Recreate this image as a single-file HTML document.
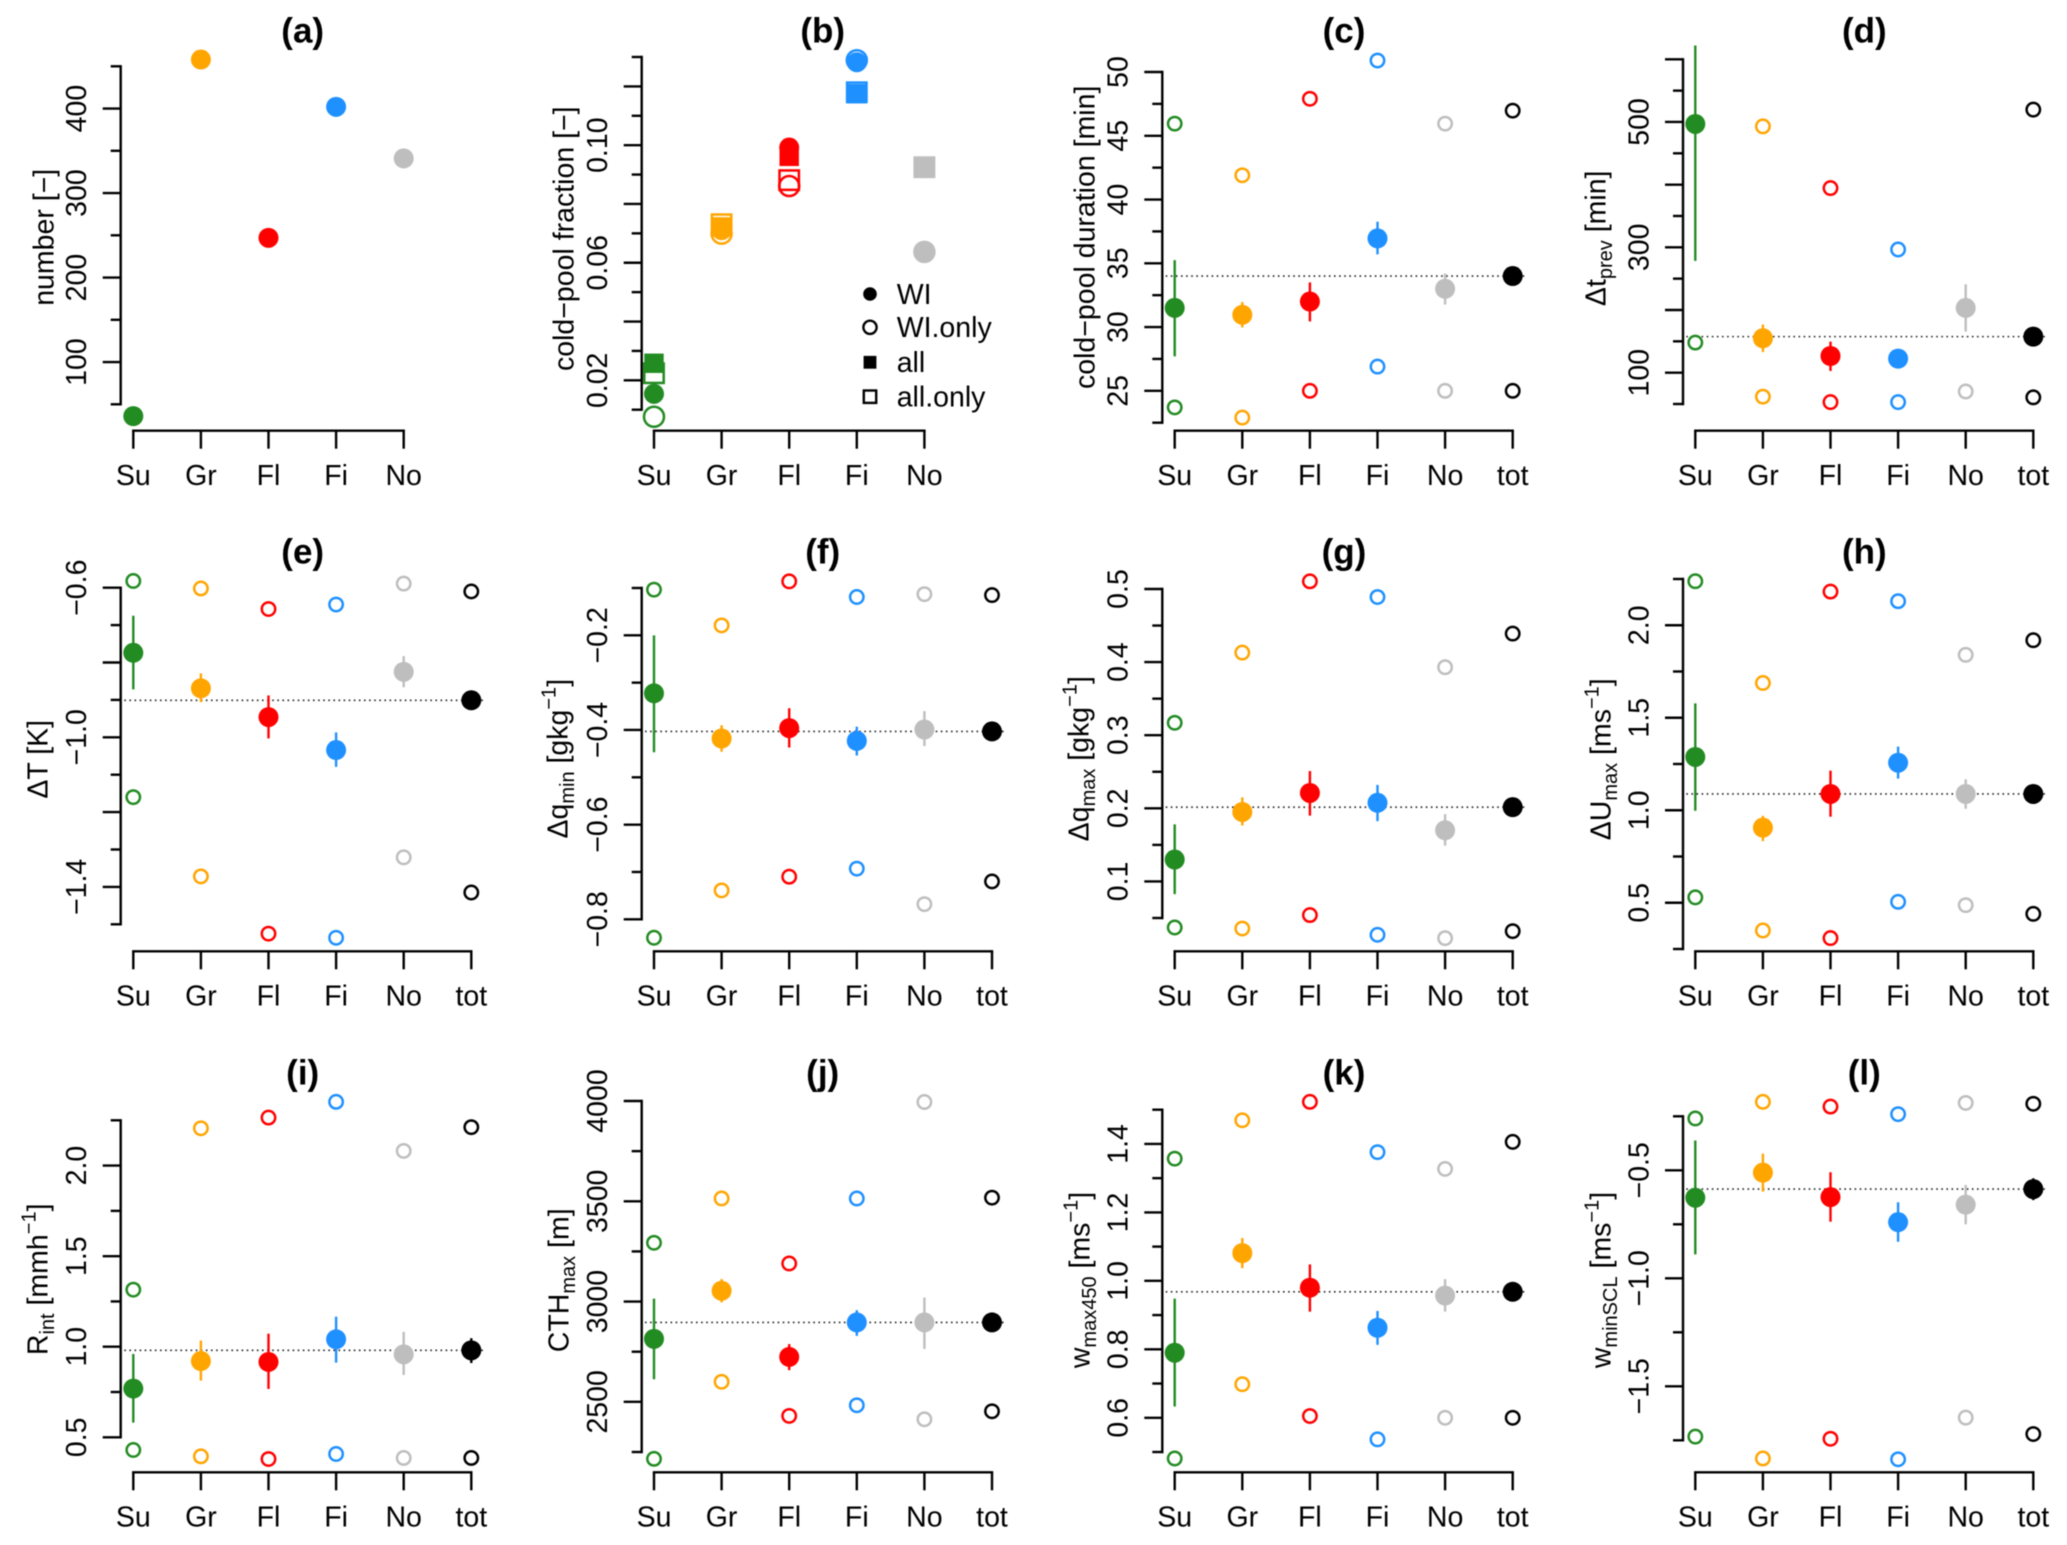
<!DOCTYPE html>
<html lang="en">
<head>
<meta charset="utf-8">
<title>Cold-pool statistics by category</title>
<style>
html,body{margin:0;padding:0;background:#fff;}
svg{display:block;font-family:"Liberation Sans",Arial,sans-serif;filter:blur(0.4px);}
</style>
</head>
<body>
<svg id="figure" xmlns="http://www.w3.org/2000/svg" width="2067" height="1545" viewBox="0 0 2067 1545">
<rect x="0" y="0" width="2067" height="1545" fill="#ffffff"/>
</svg>
<script>
const categories = ['Su', 'Gr', 'Fl', 'Fi', 'No', 'tot'];
const categoryColors = ['#228B22', '#FFA500', '#FF0000', '#1E90FF', '#BEBEBE', '#000000'];

// (a) number
const numberValues = [36, 458, 247, 402, 341];

// (b) cold-pool fraction
const fractionWI = [0.0154, 0.0711, 0.0992, 0.1282, 0.0637];
const fractionWIOnly = [0.0076, 0.0699, 0.0861, 0.1289, 0.0637];
const fractionAll = [0.0258, 0.0722, 0.0962, 0.1175, 0.0925];
const fractionAllOnly = [0.0224, 0.0731, 0.0881, 0.1180, 0.0925];

// (c) duration
const durationMean = [31.5, 30.96, 32, 36.95, 33, 34];
const durationErrHigh = [35.25, 31.96, 33.5, 38.26, 34.2, 34.3];
const durationErrLow = [27.7, 29.97, 30.44, 35.7, 31.77, 33.7];
const durationOpenHigh = [45.95, 41.9, 47.9, 50.9, 45.95, 46.97];
const durationOpenLow = [23.7, 22.9, 25, 26.9, 25, 25];

// (d) time since previous
const prevMean = [496.8, 154.9, 126.6, 122.4, 203.3, 157.5];
const prevErrHigh = [622, 176.7, 149.5, 130, 241, 165];
const prevErrLow = [278.4, 133, 102.7, 115, 165.5, 150];
const prevOpenHigh = [148, 493, 394.5, 296.5, null, 519.7];
const prevOpenLow = [null, 61.7, 53, 53, 70, 60.6];

// (e) temperature
const tempMean = [-0.774, -0.869, -0.946, -1.034, -0.825, -0.901];
const tempErrHigh = [-0.675, -0.829, -0.888, -0.987, -0.783, -0.89];
const tempErrLow = [-0.872, -0.906, -1.003, -1.079, -0.866, -0.912];
const tempOpenHigh = [-0.582, -0.602, -0.657, -0.645, -0.589, -0.61];
const tempOpenLow = [-1.16, -1.372, -1.525, -1.536, -1.321, -1.415];

// (f) qmin
const qminMean = [-0.3225, -0.418, -0.396, -0.423, -0.399, -0.403];
const qminErrHigh = [-0.2, -0.39, -0.354, -0.393, -0.36, -0.395];
const qminErrLow = [-0.447, -0.446, -0.437, -0.454, -0.434, -0.411];
const qminOpenHigh = [-0.1035, -0.179, -0.086, -0.119, -0.113, -0.115];
const qminOpenLow = [-0.839, -0.739, -0.71, -0.693, -0.768, -0.72];

// (g) qmax
const qmaxMean = [0.13, 0.195, 0.221, 0.2076, 0.17, 0.2016];
const qmaxErrHigh = [0.178, 0.215, 0.251, 0.232, 0.192, 0.208];
const qmaxErrLow = [0.0826, 0.1766, 0.19, 0.1825, 0.149, 0.195];
const qmaxOpenHigh = [0.317, 0.413, 0.5105, 0.489, 0.393, 0.439];
const qmaxOpenLow = [0.037, 0.0356, 0.054, 0.027, 0.0224, 0.032];

// (h) Umax
const umaxMean = [1.288, 0.906, 1.088, 1.257, 1.088, 1.088];
const umaxErrHigh = [1.578, 0.97, 1.214, 1.344, 1.167, 1.11];
const umaxErrLow = [0.9976, 0.833, 0.965, 1.171, 1.008, 1.06];
const umaxOpenHigh = [2.238, 1.688, 2.182, 2.13, 1.84, 1.919];
const umaxOpenLow = [0.529, 0.35, 0.309, 0.505, 0.487, 0.44];

// (i) Rint
const rintMean = [0.769, 0.921, 0.916, 1.041, 0.958, 0.98];
const rintErrHigh = [0.96, 1.034, 1.072, 1.166, 1.082, 1.047];
const rintErrLow = [0.581, 0.813, 0.767, 0.912, 0.844, 0.91];
const rintOpenHigh = [1.315, 2.206, 2.265, 2.352, 2.081, 2.212];
const rintOpenLow = [0.43, 0.395, 0.38, 0.408, 0.386, 0.386];

// (j) CTHmax
const cthMean = [2814, 3054, 2724, 2896, 2896, 2896];
const cthErrHigh = [3015, 3112, 2788, 2957, 3020, 2920];
const cthErrLow = [2613, 2996, 2658, 2829, 2764, 2870];
const cthOpenHigh = [3293, 3514, 3190, 3514, 3995, 3518];
const cthOpenLow = [2216, 2600, 2430, 2483, 2413, 2453];

// (k) wmax450
const wmaxMean = [0.79, 1.081, 0.98, 0.863, 0.957, 0.968];
const wmaxErrHigh = [0.948, 1.125, 1.048, 0.912, 1.005, 0.98];
const wmaxErrLow = [0.633, 1.037, 0.91, 0.813, 0.91, 0.955];
const wmaxOpenHigh = [1.357, 1.469, 1.523, 1.376, 1.327, 1.406];
const wmaxOpenLow = [0.481, 0.698, 0.605, 0.537, 0.6, 0.6];

// (l) wminSCL
const wminMean = [-0.627, -0.511, -0.624, -0.74, -0.659, -0.587];
const wminErrHigh = [-0.362, -0.423, -0.509, -0.648, -0.568, -0.537];
const wminErrLow = [-0.889, -0.599, -0.738, -0.831, -0.75, -0.638];
const wminOpenHigh = [-0.26, -0.183, -0.205, -0.24, -0.188, -0.192];
const wminOpenLow = [-1.733, -1.834, -1.743, -1.838, -1.645, -1.721];

// Axis tick values and printed labels
const aLongTicks = [100, 200, 300, 400];
const aShortTicks = [50, 150, 250, 350, 450];
const aTickLabels = ['100', '200', '300', '400'];
const bLongTicks = [0.02, 0.04, 0.06, 0.08, 0.10, 0.12];
const bShortTicks = [0.01, 0.03, 0.05, 0.07, 0.09, 0.11, 0.13];
const bLabelTicks = [0.02, 0.06, 0.10];
const bTickLabels = ['0.02', '0.06', '0.10'];
const cLongTicks = [25, 30, 35, 40, 45, 50];
const cShortTicks = [22.5, 27.5, 32.5, 37.5, 42.5, 47.5];
const cTickLabels = ['25', '30', '35', '40', '45', '50'];
const dLongTicks = [100, 200, 300, 400, 500, 600];
const dShortTicks = [50, 150, 250, 350, 450, 550];
const dLabelTicks = [100, 300, 500];
const dTickLabels = ['100', '300', '500'];
const eLongTicks = [-0.6, -0.8, -1.0, -1.2, -1.4];
const eShortTicks = [-0.7, -0.9, -1.1, -1.3, -1.5];
const eLabelTicks = [-0.6, -1.0, -1.4];
const eTickLabels = ['\u22120.6', '\u22121.0', '\u22121.4'];
const fLongTicks = [-0.2, -0.4, -0.6, -0.8];
const fShortTicks = [-0.1, -0.3, -0.5, -0.7];
const fTickLabels = ['\u22120.2', '\u22120.4', '\u22120.6', '\u22120.8'];
const gLongTicks = [0.1, 0.2, 0.3, 0.4, 0.5];
const gShortTicks = [0.05, 0.15, 0.25, 0.35, 0.45];
const gTickLabels = ['0.1', '0.2', '0.3', '0.4', '0.5'];
const hLongTicks = [0.5, 1.0, 1.5, 2.0];
const hShortTicks = [0.25, 0.75, 1.25, 1.75, 2.25];
const hTickLabels = ['0.5', '1.0', '1.5', '2.0'];
const iLongTicks = [0.5, 1.0, 1.5, 2.0];
const iShortTicks = [0.75, 1.25, 1.75, 2.25];
const iTickLabels = ['0.5', '1.0', '1.5', '2.0'];
const jLongTicks = [2500, 3000, 3500, 4000];
const jShortTicks = [2250, 2750, 3250, 3750];
const jTickLabels = ['2500', '3000', '3500', '4000'];
const kLongTicks = [0.6, 0.8, 1.0, 1.2, 1.4];
const kShortTicks = [0.5, 0.7, 0.9, 1.1, 1.3, 1.5];
const kTickLabels = ['0.6', '0.8', '1.0', '1.2', '1.4'];
const lLongTicks = [-0.5, -1.0, -1.5];
const lShortTicks = [-0.25, -0.75, -1.25, -1.75];
const lTickLabels = ['\u22120.5', '\u22121.0', '\u22121.5'];

const legendLabels = ['WI', 'WI.only', 'all', 'all.only'];

const svg = document.getElementById('figure');
const SVGNS = 'http://www.w3.org/2000/svg';
const TICK_FONT = 28.5;
const TITLE_FONT = 35;
const SUB_FONT = 20;
const AXIS_WIDTH = 2.4;
const STEP_X = 67.6;
const LONG_TICK = 18;
const SHORT_TICK = 10;
const FILLED_R = 10;
const OPEN_R = 6.7;
const OPEN_WIDTH = 2.5;

function make(tag, attrs, parent) {
  const node = document.createElementNS(SVGNS, tag);
  for (const key in attrs) {
    node.setAttribute(key, attrs[key]);
  }
  parent.appendChild(node);
  return node;
}

function linearScale(domain, range) {
  return function (v) {
    return range[0] + (v - domain[0]) * (range[1] - range[0]) / (domain[1] - domain[0]);
  };
}

function drawFrame(p, g) {
  const sx = function (i) { return p.suX + i * STEP_X; };
  const sy = linearScale(p.yDomain, p.yRange);
  const n = p.nCats;

  const title = make('text', {x: p.titleX, y: p.titleY, 'text-anchor': 'middle', 'font-size': TITLE_FONT, 'font-weight': 'bold', fill: '#000'}, g);
  title.textContent = '(' + p.id + ')';
  
  

  const xAxis = make('g', {}, g);
  
  
  const xLine = make('line', {x1: sx(0), x2: sx(n - 1), y1: p.xAxisY, y2: p.xAxisY, stroke: '#000', 'stroke-width': AXIS_WIDTH, 'stroke-linecap': 'square'}, xAxis);
  
  
  for (let i = 0; i < n; i++) {
    const tick = make('line', {x1: sx(i), x2: sx(i), y1: p.xAxisY, y2: p.xAxisY + LONG_TICK, stroke: '#000', 'stroke-width': AXIS_WIDTH}, xAxis);
    
    
    const label = make('text', {x: sx(i), y: p.xAxisY + 54.3, 'text-anchor': 'middle', 'font-size': TICK_FONT, fill: '#000'}, xAxis);
    label.textContent = categories[i];
    
    
  }

  const yAxis = make('g', {}, g);
  
  
  const yLine = make('line', {x1: p.yAxisX, x2: p.yAxisX, y1: p.yRange[1], y2: p.yRange[0], stroke: '#000', 'stroke-width': AXIS_WIDTH, 'stroke-linecap': 'square'}, yAxis);
  
  
  p.longTicks.forEach(function (v) {
    const tick = make('line', {x1: p.yAxisX, x2: p.yAxisX - LONG_TICK, y1: sy(v), y2: sy(v), stroke: '#000', 'stroke-width': AXIS_WIDTH}, yAxis);
    
    
  });
  p.shortTicks.forEach(function (v) {
    const tick = make('line', {x1: p.yAxisX, x2: p.yAxisX - SHORT_TICK, y1: sy(v), y2: sy(v), stroke: '#000', 'stroke-width': AXIS_WIDTH}, yAxis);
    
    
  });
  p.labelTicks.forEach(function (v, i) {
    const lx = p.yAxisX - 34.7;
    const ly = sy(v);
    const label = make('text', {x: lx, y: ly, 'text-anchor': 'middle', 'font-size': TICK_FONT, fill: '#000', transform: 'rotate(-90 ' + lx + ' ' + ly + ')'}, yAxis);
    label.textContent = p.tickLabels[i];
    
    
  });

  const yTitle = make('text', {x: p.yTitleX, y: p.yTitleY, 'text-anchor': 'middle', 'font-size': TICK_FONT, fill: '#000', transform: 'rotate(-90 ' + p.yTitleX + ' ' + p.yTitleY + ')'}, g);
  
  
  let shift = 0;
  p.yTitle.forEach(function (seg) {
    const target = seg[1] === 'sub' ? 6.5 : seg[1] === 'sup' ? -12 : 0;
    const attrs = {dy: target - shift};
    if (seg[1]) { attrs['font-size'] = SUB_FONT; }
    const span = make('tspan', attrs, yTitle);
    span.textContent = seg[0];
    shift = target;
  });
  return {sx: sx, sy: sy};
}

function drawStatsPanel(p, g) {
  const s = drawFrame(p, g);
  const refY = s.sy(p.mean[5]);
  const ref = make('line', {x1: s.sx(0) - 9, x2: s.sx(5) + 13, y1: refY, y2: refY, stroke: '#222', 'stroke-width': 1.6, 'stroke-dasharray': '1.6 3.5'}, g);
  
  
  categories.forEach(function (cat, i) {
    const color = categoryColors[i];
    const bar = make('line', {x1: s.sx(i), x2: s.sx(i), y1: s.sy(p.errHigh[i]), y2: s.sy(p.errLow[i]), stroke: color, 'stroke-width': 2.4}, g);
    
    
    const dot = make('circle', {cx: s.sx(i), cy: s.sy(p.mean[i]), r: FILLED_R, fill: color}, g);
    
    
    if (p.openHigh[i] !== null) {
      const hi = make('circle', {cx: s.sx(i), cy: s.sy(p.openHigh[i]), r: OPEN_R, fill: 'none', stroke: color, 'stroke-width': OPEN_WIDTH}, g);
      
      
    }
    if (p.openLow[i] !== null) {
      const lo = make('circle', {cx: s.sx(i), cy: s.sy(p.openLow[i]), r: OPEN_R, fill: 'none', stroke: color, 'stroke-width': OPEN_WIDTH}, g);
      
      
    }
  });
}

function drawNumberPanel(p, g) {
  const s = drawFrame(p, g);
  numberValues.forEach(function (v, i) {
    const dot = make('circle', {cx: s.sx(i), cy: s.sy(v), r: FILLED_R, fill: categoryColors[i]}, g);
    
    
  });
}

function drawFractionPanel(p, g) {
  const s = drawFrame(p, g);
  const half = 9.7;
  for (let i = 0; i < 5; i++) {
    const color = categoryColors[i];
    const c1 = make('circle', {cx: s.sx(i), cy: s.sy(fractionWI[i]), r: FILLED_R, fill: color}, g);
    
    
    const c2 = make('circle', {cx: s.sx(i), cy: s.sy(fractionWIOnly[i]), r: FILLED_R, fill: 'none', stroke: color, 'stroke-width': OPEN_WIDTH}, g);
    
    
    const s1 = make('rect', {x: s.sx(i) - half, y: s.sy(fractionAll[i]) - half, width: half * 2, height: half * 2, fill: color}, g);
    
    
    const s2 = make('rect', {x: s.sx(i) - half, y: s.sy(fractionAllOnly[i]) - half, width: half * 2, height: half * 2, fill: 'none', stroke: color, 'stroke-width': OPEN_WIDTH}, g);
    
    
  }

  const legend = make('g', {}, g);
  
  
  const legX = 870;
  const legRows = [294, 327.3, 362.3, 396.7];
  const legendSymbols = ['filled-circle', 'open-circle', 'filled-square', 'open-square'];
  legendLabels.forEach(function (text, i) {
    const y = legRows[i];
    const kind = legendSymbols[i];
    let sym;
    if (kind === 'filled-circle') {
      sym = make('circle', {cx: legX, cy: y, r: 6.8, fill: '#000'}, legend);
    } else if (kind === 'open-circle') {
      sym = make('circle', {cx: legX, cy: y, r: 6.6, fill: 'none', stroke: '#000', 'stroke-width': 2.4}, legend);
    } else if (kind === 'filled-square') {
      sym = make('rect', {x: legX - 6.4, y: y - 6.4, width: 12.8, height: 12.8, fill: '#000'}, legend);
    } else {
      sym = make('rect', {x: legX - 6.2, y: y - 6.2, width: 12.4, height: 12.4, fill: 'none', stroke: '#000', 'stroke-width': 2.4}, legend);
    }
    
    
    const label = make('text', {x: 896.7, y: y + 9.8, 'font-size': TICK_FONT, fill: '#000'}, legend);
    label.textContent = text;
    
    
  });
}

const panels = [
  {id: 'a', kind: 'number', nCats: 5, suX: 133.3, yAxisX: 120.7, xAxisY: 430.7, titleX: 302.7, titleY: 42.5, yDomain: [50, 450], yRange: [404.3, 66.3], longTicks: aLongTicks, shortTicks: aShortTicks, labelTicks: aLongTicks, tickLabels: aTickLabels, yTitleX: 53.3, yTitleY: 237.3, yTitle: [['number [\u2212]']]},
  {id: 'b', kind: 'fraction', nCats: 5, suX: 654, yAxisX: 641.7, xAxisY: 430.7, titleX: 822.7, titleY: 42.5, yDomain: [0.01, 0.13], yRange: [409.7, 57], longTicks: bLongTicks, shortTicks: bShortTicks, labelTicks: bLabelTicks, tickLabels: bTickLabels, yTitleX: 573.3, yTitleY: 238.7, yTitle: [['cold\u2212pool fraction [\u2212]']]},
  {id: 'c', kind: 'stats', nCats: 6, suX: 1174.7, yAxisX: 1162.3, xAxisY: 430.7, titleX: 1344, titleY: 42.5, yDomain: [22.5, 50], yRange: [422.7, 72], longTicks: cLongTicks, shortTicks: cShortTicks, labelTicks: cLongTicks, tickLabels: cTickLabels, yTitleX: 1094.3, yTitleY: 237.3, yTitle: [['cold\u2212pool duration [min]']], mean: durationMean, errHigh: durationErrHigh, errLow: durationErrLow, openHigh: durationOpenHigh, openLow: durationOpenLow},
  {id: 'd', kind: 'stats', nCats: 6, suX: 1695.3, yAxisX: 1683, xAxisY: 430.7, titleX: 1864.3, titleY: 42.5, yDomain: [50, 600], yRange: [404, 59.3], longTicks: dLongTicks, shortTicks: dShortTicks, labelTicks: dLabelTicks, tickLabels: dTickLabels, yTitleX: 1605.3, yTitleY: 238.3, yTitle: [['\u0394t'], ['prev', 'sub'], [' [min]']], mean: prevMean, errHigh: prevErrHigh, errLow: prevErrLow, openHigh: prevOpenHigh, openLow: prevOpenLow},
  {id: 'e', kind: 'stats', nCats: 6, suX: 133.3, yAxisX: 120.7, xAxisY: 951.3, titleX: 302.7, titleY: 563.3, yDomain: [-1.5, -0.6], yRange: [924.3, 587.7], longTicks: eLongTicks, shortTicks: eShortTicks, labelTicks: eLabelTicks, tickLabels: eTickLabels, yTitleX: 47.7, yTitleY: 759.3, yTitle: [['\u0394T [K]']], mean: tempMean, errHigh: tempErrHigh, errLow: tempErrLow, openHigh: tempOpenHigh, openLow: tempOpenLow},
  {id: 'f', kind: 'stats', nCats: 6, suX: 654, yAxisX: 641.7, xAxisY: 951.3, titleX: 822.7, titleY: 563.3, yDomain: [-0.8, -0.1], yRange: [919.3, 588], longTicks: fLongTicks, shortTicks: fShortTicks, labelTicks: fLongTicks, tickLabels: fTickLabels, yTitleX: 567.7, yTitleY: 758.7, yTitle: [['\u0394q'], ['min', 'sub'], [' [gkg'], ['\u22121', 'sup'], [']']], mean: qminMean, errHigh: qminErrHigh, errLow: qminErrLow, openHigh: qminOpenHigh, openLow: qminOpenLow},
  {id: 'g', kind: 'stats', nCats: 6, suX: 1174.7, yAxisX: 1162.3, xAxisY: 951.3, titleX: 1344, titleY: 563.3, yDomain: [0.05, 0.5], yRange: [918, 589], longTicks: gLongTicks, shortTicks: gShortTicks, labelTicks: gLongTicks, tickLabels: gTickLabels, yTitleX: 1088.3, yTitleY: 758.7, yTitle: [['\u0394q'], ['max', 'sub'], [' [gkg'], ['\u22121', 'sup'], [']']], mean: qmaxMean, errHigh: qmaxErrHigh, errLow: qmaxErrLow, openHigh: qmaxOpenHigh, openLow: qmaxOpenLow},
  {id: 'h', kind: 'stats', nCats: 6, suX: 1695.3, yAxisX: 1683, xAxisY: 951.3, titleX: 1864.3, titleY: 563.3, yDomain: [0.25, 2.25], yRange: [949, 579], longTicks: hLongTicks, shortTicks: hShortTicks, labelTicks: hLongTicks, tickLabels: hTickLabels, yTitleX: 1610.3, yTitleY: 759.3, yTitle: [['\u0394U'], ['max', 'sub'], [' [ms'], ['\u22121', 'sup'], [']']], mean: umaxMean, errHigh: umaxErrHigh, errLow: umaxErrLow, openHigh: umaxOpenHigh, openLow: umaxOpenLow},
  {id: 'i', kind: 'stats', nCats: 6, suX: 133.3, yAxisX: 120.7, xAxisY: 1472.3, titleX: 302.7, titleY: 1084.3, yDomain: [0.5, 2.25], yRange: [1437.3, 1120.3], longTicks: iLongTicks, shortTicks: iShortTicks, labelTicks: iLongTicks, tickLabels: iTickLabels, yTitleX: 47.7, yTitleY: 1279.3, yTitle: [['R'], ['int', 'sub'], [' [mmh'], ['\u22121', 'sup'], [']']], mean: rintMean, errHigh: rintErrHigh, errLow: rintErrLow, openHigh: rintOpenHigh, openLow: rintOpenLow},
  {id: 'j', kind: 'stats', nCats: 6, suX: 654, yAxisX: 641.7, xAxisY: 1472.3, titleX: 822.7, titleY: 1084.3, yDomain: [2250, 4000], yRange: [1452, 1101], longTicks: jLongTicks, shortTicks: jShortTicks, labelTicks: jLongTicks, tickLabels: jTickLabels, yTitleX: 568.3, yTitleY: 1280.3, yTitle: [['CTH'], ['max', 'sub'], [' [m]']], mean: cthMean, errHigh: cthErrHigh, errLow: cthErrLow, openHigh: cthOpenHigh, openLow: cthOpenLow},
  {id: 'k', kind: 'stats', nCats: 6, suX: 1174.7, yAxisX: 1162.3, xAxisY: 1472.3, titleX: 1344, titleY: 1084.3, yDomain: [0.5, 1.5], yRange: [1452, 1109.7], longTicks: kLongTicks, shortTicks: kShortTicks, labelTicks: kLongTicks, tickLabels: kTickLabels, yTitleX: 1089.3, yTitleY: 1280, yTitle: [['w'], ['max450', 'sub'], [' [ms'], ['\u22121', 'sup'], [']']], mean: wmaxMean, errHigh: wmaxErrHigh, errLow: wmaxErrLow, openHigh: wmaxOpenHigh, openLow: wmaxOpenLow},
  {id: 'l', kind: 'stats', nCats: 6, suX: 1695.3, yAxisX: 1683, xAxisY: 1472.3, titleX: 1864.3, titleY: 1084.3, yDomain: [-1.75, -0.25], yRange: [1440.3, 1116.3], longTicks: lLongTicks, shortTicks: lShortTicks, labelTicks: lLongTicks, tickLabels: lTickLabels, yTitleX: 1610.3, yTitleY: 1280, yTitle: [['w'], ['minSCL', 'sub'], [' [ms'], ['\u22121', 'sup'], [']']], mean: wminMean, errHigh: wminErrHigh, errLow: wminErrLow, openHigh: wminOpenHigh, openLow: wminOpenLow}
];

panels.forEach(function (p) {
  const g = make('g', {}, svg);
  
  
  if (p.kind === 'number') {
    drawNumberPanel(p, g);
  } else if (p.kind === 'fraction') {
    drawFractionPanel(p, g);
  } else {
    drawStatsPanel(p, g);
  }
});
</script>
</body>
</html>
